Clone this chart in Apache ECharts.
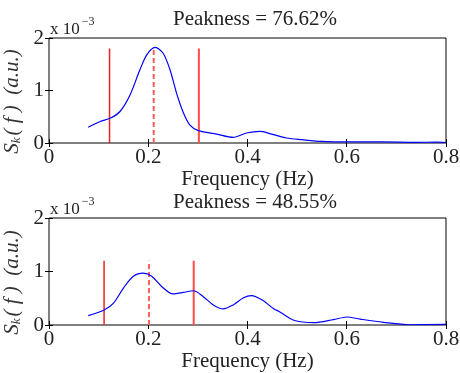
<!DOCTYPE html>
<html>
<head>
<meta charset="utf-8">
<script src="https://cdn.jsdelivr.net/npm/echarts@6/dist/echarts.min.js"></script>
<style>
  html, body { margin: 0; padding: 0; background: #fff; }
  #chart { width: 460px; height: 373px; }
</style>
</head>
<body>
<div id="chart"></div>
<script>
  // 数据 (x 10^-3)
  const titles = ['Peakness = 76.62%', 'Peakness = 48.55%'];
  const xTicks = [0, 0.2, 0.4, 0.6, 0.8];
  const yTicks = [0, 1, 2];

  const freq1 = [0.079, 0.103, 0.123, 0.143, 0.163, 0.183, 0.197, 0.214, 0.23, 0.244, 0.257, 0.271, 0.284, 0.301, 0.338, 0.371, 0.398, 0.425, 0.445, 0.479, 0.51, 0.55, 0.6, 0.67, 0.74, 0.78, 0.8];
  const spec1 = [0.30, 0.41, 0.47, 0.60, 0.91, 1.39, 1.68, 1.82, 1.71, 1.39, 0.95, 0.57, 0.34, 0.235, 0.17, 0.108, 0.19, 0.22, 0.18, 0.095, 0.063, 0.03, 0.02, 0.02, 0.013, 0.015, 0.01];
  const lines1 = [0.122, 0.211, 0.302];   // 左, 峰值(虚线), 右
  const lineTop1 = 1.8;

  const freq2 = [0.079, 0.111, 0.13, 0.15, 0.17, 0.19, 0.207, 0.227, 0.25, 0.271, 0.291, 0.311, 0.331, 0.351, 0.371, 0.392, 0.408, 0.429, 0.452, 0.466, 0.492, 0.533, 0.573, 0.6, 0.627, 0.674, 0.727, 0.8];
  const spec2 = [0.174, 0.28, 0.41, 0.69, 0.91, 0.97, 0.91, 0.72, 0.58, 0.61, 0.64, 0.53, 0.375, 0.30, 0.375, 0.51, 0.55, 0.47, 0.31, 0.24, 0.094, 0.044, 0.1, 0.15, 0.11, 0.05, 0.005, 0.012];
  const lines2 = [0.111, 0.2015, 0.2916];
  const lineTop2 = 1.2;

  const font = 'Liberation Serif, Times New Roman, serif';
  const grids = [{ top: 38, height: 105, titleTop: 4 }, { top: 218, height: 107, titleTop: 187 }];
  const lineColors = ['#ee2222', '#ff6060', '#ff4a4a'];

  let chartDom = document.getElementById('chart');
  let myChart = echarts.init(chartDom);

  let option = { animation: false, title: [], graphic: [], grid: [], xAxis: [], yAxis: [], series: [] };

  function addPanel(i, freq, spec, lines, lineTop) {
    let g = grids[i];
    option.grid.push({ left: 49, right: 14, top: g.top, height: g.height, show: true, borderColor: '#000', borderWidth: 1, outerBoundsMode: 'none', containLabel: false });
    option.title.push({
      text: titles[i], left: 250, top: g.titleTop, textAlign: 'center',
      textStyle: { fontFamily: font, fontWeight: 'normal', fontSize: 21, color: '#222' }
    });
    option.graphic.push({
      type: 'text', left: 50, top: g.top - 22,
      style: { text: '{a|x 10}{b|\u22123}', rich: {
        a: { fontFamily: font, fontSize: 17, fill: '#222', verticalAlign: 'bottom' },
        b: { fontFamily: font, fontSize: 12, fill: '#222', padding: [0, 0, 10, 2] }
      } }
    });
    // 下方 x 轴
    option.xAxis.push({
      type: 'value', gridIndex: i, min: 0, max: 0.8, interval: 0.2, position: 'bottom',
      name: 'Frequency (Hz)', nameLocation: 'middle', nameGap: 24,
      nameTextStyle: { fontFamily: font, fontSize: 21, color: '#222' },
      axisLine: { show: false }, splitLine: { show: false },
      axisTick: { inside: true, length: 4, lineStyle: { color: '#000' } },
      axisLabel: { fontFamily: font, fontSize: 21, color: '#222', margin: 4,
        formatter: v => (v === 0 ? '0' : v.toFixed(1)) }
    });
    // 上方 x 轴 (只有刻度)
    option.xAxis.push({
      type: 'value', gridIndex: i, min: 0, max: 0.8, interval: 0.2, position: 'top',
      axisLine: { show: false }, splitLine: { show: false }, axisLabel: { show: false },
      axisTick: { inside: true, length: 4, lineStyle: { color: '#000' } }
    });
    option.yAxis.push({
      type: 'value', gridIndex: i, min: 0, max: 2, interval: 1, position: 'left',
      name: '{i|S}{s|k}{i|( f )  (a.u.)}', nameLocation: 'middle', nameGap: 22, nameRotate: 90,
      nameTextStyle: { padding: [0, 22, 0, 0], rich: {
        i: { fontFamily: font, fontStyle: 'italic', fontSize: 21, color: '#333' },
        s: { fontFamily: font, fontStyle: 'italic', fontSize: 13, color: '#333', padding: [8, 2, 0, 0] }
      } },
      axisLine: { show: false }, splitLine: { show: false },
      axisTick: { inside: true, length: 4, lineStyle: { color: '#000' } },
      axisLabel: { fontFamily: font, fontSize: 21, color: '#222', margin: 5 }
    });
    option.yAxis.push({
      type: 'value', gridIndex: i, min: 0, max: 2, interval: 1, position: 'right',
      axisLine: { show: false }, splitLine: { show: false }, axisLabel: { show: false },
      axisTick: { inside: true, length: 4, lineStyle: { color: '#000' } }
    });
    let xi = i * 2, yi = i * 2;
    lines.forEach((f, k) => {
      option.series.push({
        type: 'line', xAxisIndex: xi, yAxisIndex: yi, showSymbol: false, silent: true,
        data: [[f, 0], [f, lineTop]],
        lineStyle: { color: lineColors[k], width: k === 0 ? 1.5 : 2, type: k === 1 ? [5, 3] : 'solid' }
      });
    });
    option.series.push({
      type: 'line', xAxisIndex: xi, yAxisIndex: yi, showSymbol: false, smooth: 0.3,
      data: freq.map((f, k) => [f, spec[k]]),
      lineStyle: { color: '#00f', width: 1.2 }
    });
  }

  addPanel(0, freq1, spec1, lines1, lineTop1);
  addPanel(1, freq2, spec2, lines2, lineTop2);

  window.onresize = myChart.resize;
  myChart.setOption(option);
</script>
</body>
</html>
